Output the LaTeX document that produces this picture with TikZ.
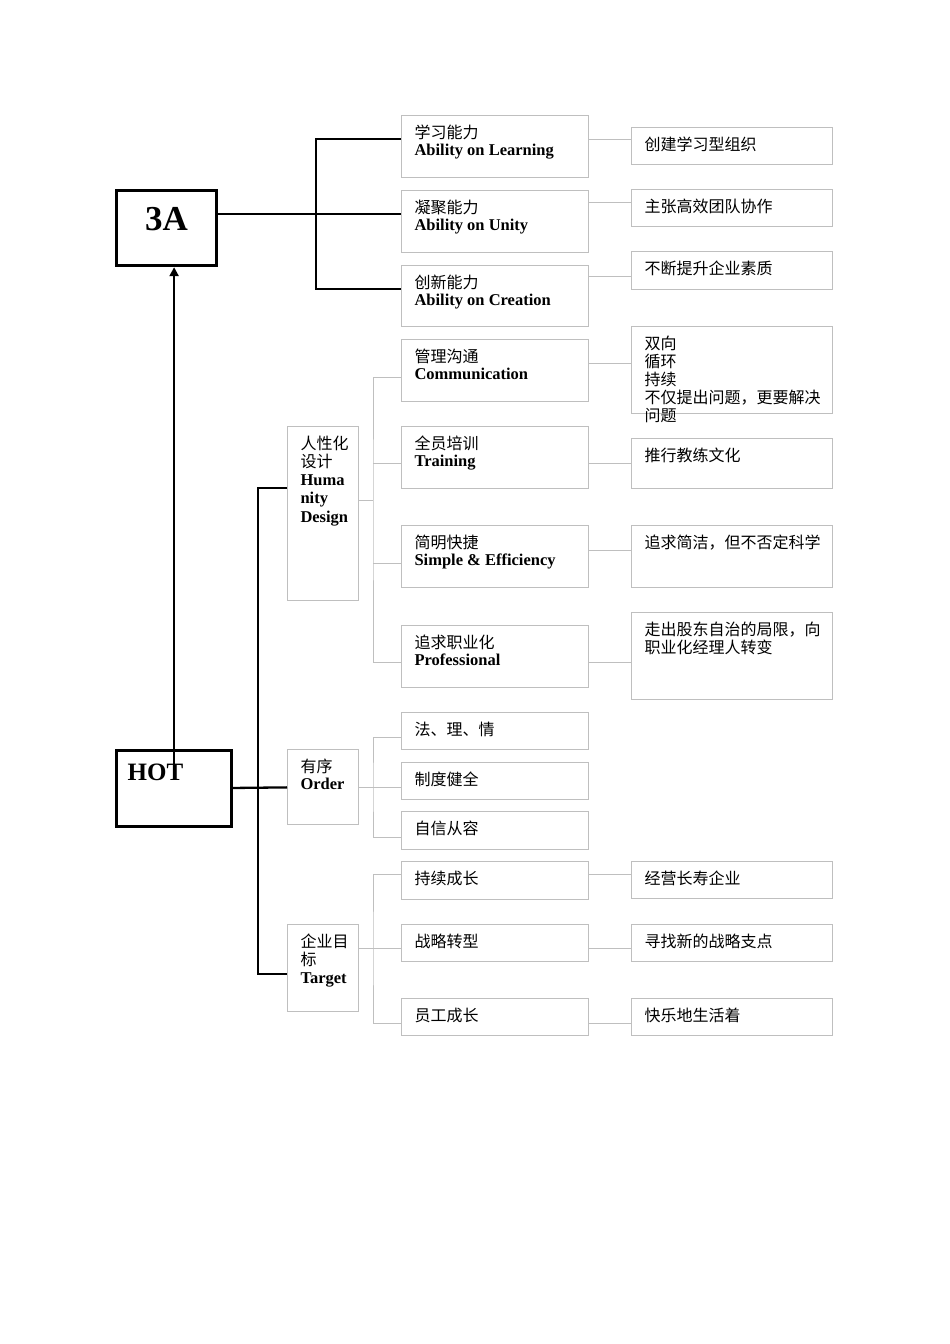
\documentclass[tikz,border=0pt]{standalone}
\usepackage{fontspec}
\setmainfont{Liberation Serif}
\newfontfamily\cjk{Noto Sans CJK SC}
\usepackage{tikz}
\usetikzlibrary{arrows.meta,calc,positioning}

\colorlet{cellgray}{black!25}
\newcommand\zh[1]{{\cjk #1}}
\newcommand\en[1]{{\fontsize{16.5}{18}\selectfont\bfseries #1}}
% text block of a cell: [line skip] width, height, contents
\newcommand\celltext[4][17]{\parbox[t][#3pt][t]{#2pt}{\raggedright\leftskip=13pt\fontsize{16}{#1}\selectfont\rule{0pt}{22.5pt}#4}}

\tikzset{
  hub/.style={draw, line width=3.2pt, inner sep=0pt, anchor=north west},
  cell/.style={draw=cellgray, line width=1pt, inner sep=0pt, anchor=north west},
  trunk/.style={line width=2.3pt},
  twig/.style={draw=cellgray, line width=1pt},
}

\begin{document}
\begin{tikzpicture}[x=1pt,y=-1pt]
\fill[white] (0,0) rectangle (950,1344);
\useasboundingbox (0,0) rectangle (950,1344);

\node[hub] (threeA) at (115,189) {\parbox[t][75pt][t]{100pt}{\centering\fontsize{35}{40}\selectfont\bfseries\rule{0pt}{40pt}3A}};
\node[hub] (hot) at (115,749) {\parbox[t][76pt][t]{115pt}{\leftskip=11pt\fontsize{25}{30}\selectfont\bfseries\rule{0pt}{30pt}HOT}};

% first column
\node[cell] (learn) at (401,115) {\celltext{187}{62}{\zh{学习能力}\\\en{Ability on Learning}}};
\node[cell] (unity) at (401,190) {\celltext{187}{62}{\zh{凝聚能力}\\\en{Ability on Unity}}};
\node[cell] (create) at (401,265) {\celltext{187}{61}{\zh{创新能力}\\\en{Ability on Creation}}};
\node[cell] (comm) at (401,339) {\celltext{187}{62}{\zh{管理沟通}\\\en{Communication}}};
\node[cell] (train) at (401,426) {\celltext{187}{62}{\zh{全员培训}\\\en{Training}}};
\node[cell] (simple) at (401,525) {\celltext{187}{62}{\zh{简明快捷}\\\en{Simple \& Efficiency}}};
\node[cell] (pro) at (401,625) {\celltext{187}{62}{\zh{追求职业化}\\\en{Professional}}};
\node[cell] (law) at (401,712) {\celltext{187}{37}{\zh{法、理、情}}};
\node[cell] (sys) at (401,762) {\celltext{187}{37}{\zh{制度健全}}};
\node[cell] (calm) at (401,811) {\celltext{187}{38}{\zh{自信从容}}};
\node[cell] (grow) at (401,861) {\celltext{187}{38}{\zh{持续成长}}};
\node[cell] (shift) at (401,924) {\celltext{187}{37}{\zh{战略转型}}};
\node[cell] (staff) at (401,998) {\celltext{187}{37}{\zh{员工成长}}};

% second column
\node[cell] (build) at (631,127) {\celltext{201}{37}{\zh{创建学习型组织}}};
\node[cell] (teamwork) at (631,189) {\celltext{201}{37}{\zh{主张高效团队协作}}};
\node[cell] (quality) at (631,251) {\celltext{201}{38}{\zh{不断提升企业素质}}};
\node[cell] (twoway) at (631,326) {\celltext[18]{201}{87}{\zh{双向\\循环\\持续\\不仅提出问题，更要解决\\问题}}};
\node[cell] (coach) at (631,438) {\celltext{201}{50}{\zh{推行教练文化}}};
\node[cell] (concise) at (631,525) {\celltext{201}{62}{\zh{追求简洁，但不否定科学}}};
\node[cell] (manager) at (631,612) {\celltext[18]{201}{87}{\zh{走出股东自治的局限，向\\职业化经理人转变}}};
\node[cell] (longlife) at (631,861) {\celltext{201}{37}{\zh{经营长寿企业}}};
\node[cell] (pivot) at (631,924) {\celltext{201}{37}{\zh{寻找新的战略支点}}};
\node[cell] (happy) at (631,998) {\celltext{201}{37}{\zh{快乐地生活着}}};

% middle column
\node[cell] (human) at (287,426) {\celltext[18.7]{71}{174}{\zh{人性化\\设计}\\\en{Huma\\nity\\Design}}};
\node[cell] (order) at (287,749) {\celltext{71}{75}{\zh{有序}\\\en{Order}}};
\node[cell] (target) at (287,924) {\celltext[18]{71}{87}{\zh{企业目\\标}\\\en{Target}}};

% 3A branch
\coordinate (busA) at (316,214);
\draw[trunk] (threeA.east |- busA) -- ([yshift=-24pt]unity.north west);
\draw[trunk] ([yshift=-24pt]learn.north west) -| (busA) |- ([yshift=-24pt]create.north west);

% HOT branch
\coordinate (trunkO) at (258,787);
\draw[trunk] (hot) -- (order);
\draw[trunk] (human.west |- 0,488) -| (trunkO) |- (target.west |- 0,974);
\draw[trunk,-{Triangle[length=9pt,width=9pt]}] ([yshift=17pt]hot.center) -- (hot.center |- threeA.south);

% humanity design
\coordinate (busH) at (373,500);
\draw[twig] (human.east |- busH) -- (busH);
\draw[twig] (comm.west |- 0,377) -| (busH) |- (pro.west |- 0,662);
\draw[twig] (busH |- 0,463) -- (train.west |- 0,463);
\draw[twig] (busH |- 0,563) -- (simple.west |- 0,563);

% order
\coordinate (busO) at (373,787);
\draw[twig] (order.east) -- (sys.west |- order.east);
\draw[twig] (law.west |- 0,737) -| (busO) |- (calm.west |- 0,837);

% target
\coordinate (busT) at (373,948);
\draw[twig] (target.east |- busT) -- (shift.west |- busT);
\draw[twig] (grow.west |- 0,874) -| (busT) |- (staff.west |- 0,1023);

% first to second column
\draw[twig] (learn.east |- 0,139) -- (build.west |- 0,139);
\draw[twig] (unity.east |- 0,202) -- (teamwork.west |- 0,202);
\draw[twig] (create.east |- 0,276) -- (quality.west |- 0,276);
\draw[twig] (comm.east |- 0,363) -- (twoway.west |- 0,363);
\draw[twig] (train.east |- 0,463) -- (coach.west |- 0,463);
\draw[twig] (simple.east |- 0,550) -- (concise.west |- 0,550);
\draw[twig] (pro.east |- 0,662) -- (manager.west |- 0,662);
\draw[twig] (grow.east |- 0,874) -- (longlife.west |- 0,874);
\draw[twig] (shift.east |- 0,948) -- (pivot.west |- 0,948);
\draw[twig] (staff.east |- 0,1023) -- (happy.west |- 0,1023);
\end{tikzpicture}
\end{document}
